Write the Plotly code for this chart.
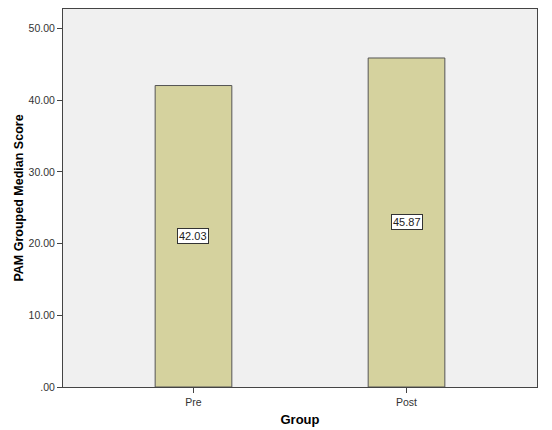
import plotly.graph_objects as go

groups = ["Pre", "Post"]
medians = [42.03, 45.87]
tick_vals = [0, 10, 20, 30, 40, 50]
tick_text = [".00", "10.00", "20.00", "30.00", "40.00", "50.00"]

fig = go.Figure()
fig.add_trace(go.Bar(
    x=groups, y=medians, width=0.36,
    marker=dict(color="#d5d29e", line=dict(color="#555555", width=1)),
    showlegend=False, hoverinfo="skip"))

# value labels boxed in the middle of each bar
for g, v in zip(groups, medians):
    fig.add_annotation(x=g, y=v / 2, text="%.2f" % v, showarrow=False,
                       bgcolor="white", bordercolor="#333333", borderwidth=1,
                       borderpad=1, font=dict(family="Liberation Sans", size=11, color="#222222"))

fig.update_layout(
    width=552, height=430,
    margin=dict(l=63, r=15, t=9, b=43),
    plot_bgcolor="#f0f0f0", paper_bgcolor="white",
    font=dict(family="Liberation Sans", color="#333333"),
)
fig.update_xaxes(range=[-0.6126, 1.6126], showline=True, linecolor="#444444", mirror=True,
                 ticks="outside", ticklen=5, tickcolor="#444444", tickfont=dict(size=10.5),
                 automargin=False,
                 title=dict(text="<b>Group</b>", font=dict(size=13, color="black"), standoff=8))
fig.update_yaxes(range=[0, 52.7], tickvals=tick_vals, ticktext=tick_text, showgrid=False,
                 zeroline=False, showline=True, linecolor="#444444", mirror=True,
                 ticks="outside", ticklen=5, tickcolor="#444444", tickfont=dict(size=10.5),
                 automargin=False,
                 title=dict(text="<b>PAM Grouped Median Score</b>", font=dict(size=12.5, color="black"), standoff=2))

# drop the default page margin so the figure sits at the window's corner
fig.write_html("out.html", config={"displayModeBar": False},
               post_script="document.body.style.margin='0';")
